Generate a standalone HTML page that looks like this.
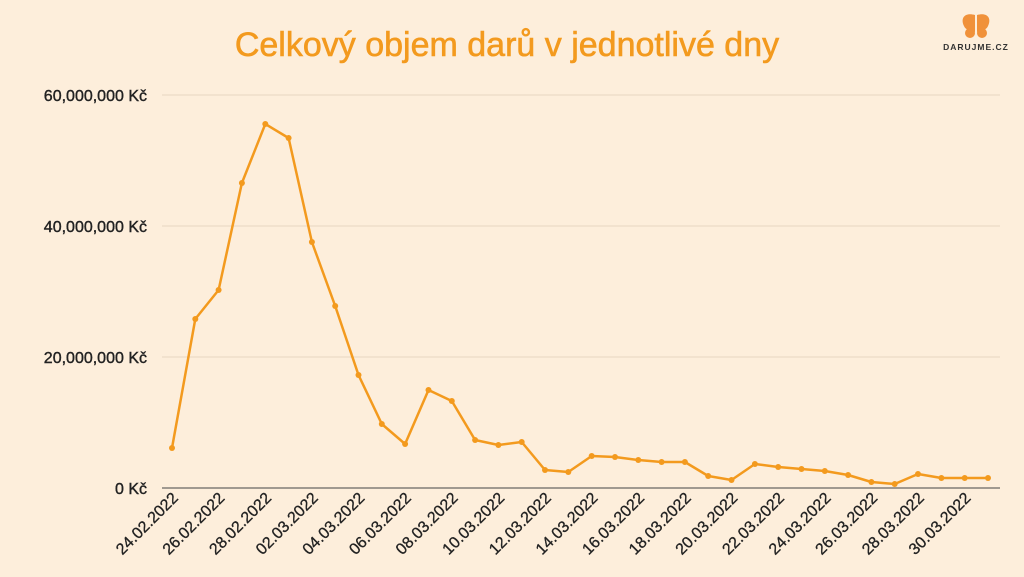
<!DOCTYPE html><html><head><meta charset="utf-8"><style>body{margin:0;background:#fdeedb}svg{display:block}</style></head><body>
<svg width="1024" height="577" xmlns="http://www.w3.org/2000/svg" font-family="Liberation Sans, sans-serif">
<rect width="1024" height="577" fill="#fdeedb"/>
<text x="507" y="56" text-anchor="middle" font-size="34" fill="#f39a1e" stroke="#f39a1e" stroke-width="0.6">Celkový objem darů v jednotlivé dny</text>
<g fill="#f0913a"><path d="M975 15 C965 12 960 18 964 26 C966 31 972 30 975 32 Z"/><path d="M977 15 C987 12 992 18 988 26 C986 31 980 30 977 32 Z"/><circle cx="970" cy="33" r="5"/><circle cx="982" cy="33" r="5"/></g>
<text x="976" y="50" text-anchor="middle" font-size="8.5" letter-spacing="1" fill="#333" font-weight="bold">DARUJME.CZ</text>
<g stroke="#e6d6c0" stroke-width="1"><line x1="162" y1="95" x2="1000" y2="95"/><line x1="162" y1="226" x2="1000" y2="226"/><line x1="162" y1="357" x2="1000" y2="357"/></g>
<line x1="162" y1="488" x2="1000" y2="488" stroke="#444" stroke-width="1"/>
<g font-size="16" fill="#222" stroke="#222" stroke-width="0.4" text-anchor="end"><text x="147" y="101">60,000,000 Kč</text><text x="147" y="232">40,000,000 Kč</text><text x="147" y="363">20,000,000 Kč</text><text x="147" y="494">0 Kč</text></g>
<polyline fill="none" stroke="#f39a1e" stroke-width="2.5" stroke-linejoin="round" points="172,448 195.3,319 218.6,290 241.9,183 265.3,124 288.6,138 311.9,242 335.2,306 358.5,375 381.8,424 405.1,444 428.5,390 451.8,401 475.1,440 498.4,445 521.7,442 545,470 568.3,472 591.7,456 615,457 638.3,460 661.6,462 684.9,462 708.2,476 731.5,480 754.9,464 778.2,467 801.5,469 824.8,471 848.1,475 871.4,482 894.7,484 918,474 941.4,478 964.7,478 988,478"/>
<g fill="#f39a1e"><circle cx="172" cy="448" r="3"/><circle cx="195.3" cy="319" r="3"/><circle cx="218.6" cy="290" r="3"/><circle cx="241.9" cy="183" r="3"/><circle cx="265.3" cy="124" r="3"/><circle cx="288.6" cy="138" r="3"/><circle cx="311.9" cy="242" r="3"/><circle cx="335.2" cy="306" r="3"/><circle cx="358.5" cy="375" r="3"/><circle cx="381.8" cy="424" r="3"/><circle cx="405.1" cy="444" r="3"/><circle cx="428.5" cy="390" r="3"/><circle cx="451.8" cy="401" r="3"/><circle cx="475.1" cy="440" r="3"/><circle cx="498.4" cy="445" r="3"/><circle cx="521.7" cy="442" r="3"/><circle cx="545" cy="470" r="3"/><circle cx="568.3" cy="472" r="3"/><circle cx="591.7" cy="456" r="3"/><circle cx="615" cy="457" r="3"/><circle cx="638.3" cy="460" r="3"/><circle cx="661.6" cy="462" r="3"/><circle cx="684.9" cy="462" r="3"/><circle cx="708.2" cy="476" r="3"/><circle cx="731.5" cy="480" r="3"/><circle cx="754.9" cy="464" r="3"/><circle cx="778.2" cy="467" r="3"/><circle cx="801.5" cy="469" r="3"/><circle cx="824.8" cy="471" r="3"/><circle cx="848.1" cy="475" r="3"/><circle cx="871.4" cy="482" r="3"/><circle cx="894.7" cy="484" r="3"/><circle cx="918" cy="474" r="3"/><circle cx="941.4" cy="478" r="3"/><circle cx="964.7" cy="478" r="3"/><circle cx="988" cy="478" r="3"/></g>
<g font-size="16" fill="#222" stroke="#222" stroke-width="0.3" text-anchor="end">
<text transform="translate(179,499) rotate(-45)">24.02.2022</text>
<text transform="translate(225.6,499) rotate(-45)">26.02.2022</text>
<text transform="translate(272.3,499) rotate(-45)">28.02.2022</text>
<text transform="translate(318.9,499) rotate(-45)">02.03.2022</text>
<text transform="translate(365.5,499) rotate(-45)">04.03.2022</text>
<text transform="translate(412.1,499) rotate(-45)">06.03.2022</text>
<text transform="translate(458.8,499) rotate(-45)">08.03.2022</text>
<text transform="translate(505.4,499) rotate(-45)">10.03.2022</text>
<text transform="translate(552,499) rotate(-45)">12.03.2022</text>
<text transform="translate(598.7,499) rotate(-45)">14.03.2022</text>
<text transform="translate(645.3,499) rotate(-45)">16.03.2022</text>
<text transform="translate(691.9,499) rotate(-45)">18.03.2022</text>
<text transform="translate(738.5,499) rotate(-45)">20.03.2022</text>
<text transform="translate(785.2,499) rotate(-45)">22.03.2022</text>
<text transform="translate(831.8,499) rotate(-45)">24.03.2022</text>
<text transform="translate(878.4,499) rotate(-45)">26.03.2022</text>
<text transform="translate(925,499) rotate(-45)">28.03.2022</text>
<text transform="translate(971.7,499) rotate(-45)">30.03.2022</text>
</g>
</svg></body></html>
